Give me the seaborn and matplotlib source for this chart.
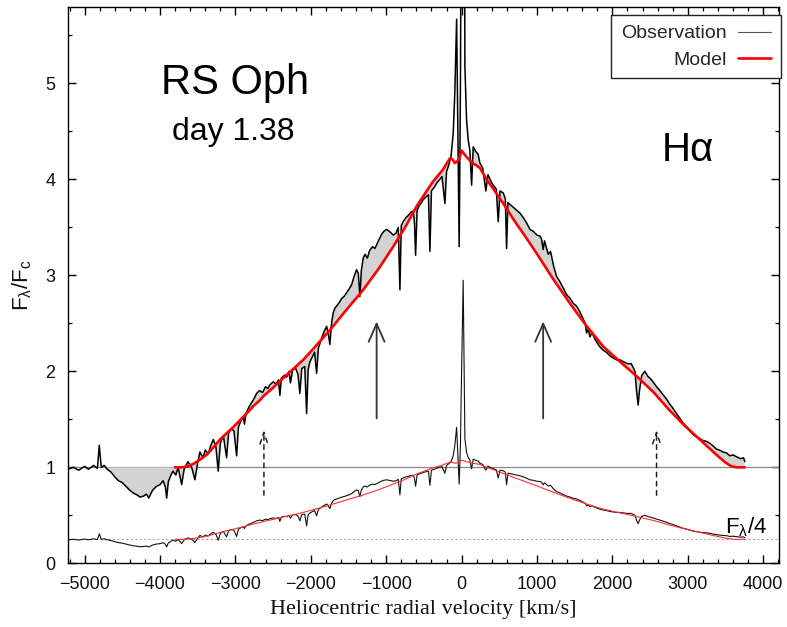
import numpy as np
import pandas as pd
import matplotlib
matplotlib.use("Agg")
import matplotlib.pyplot as plt
import seaborn as sns
from matplotlib.ticker import MultipleLocator

# ---------------- data ----------------
obs_v = [-5225, -5150, -5080, -5000, -4950, -4880, -4830, -4806, -4780, -4740,
         -4700, -4650, -4600, -4550, -4500, -4450, -4400, -4350, -4300, -4265,
         -4220, -4180, -4150, -4100, -4050, -4000, -3960, -3930, -3912, -3890,
         -3850, -3828, -3790, -3760, -3713, -3680, -3630, -3580, -3537, -3500,
         -3471, -3430, -3400, -3360, -3330, -3294, -3260, -3228, -3200, -3160,
         -3117, -3090, -3050, -3020, -2984, -2960, -2930, -2896, -2880, -2860,
         -2820, -2780, -2750, -2719, -2680, -2640, -2600, -2570, -2542, -2500,
         -2460, -2430, -2410, -2390, -2350, -2320, -2290, -2270, -2240, -2200,
         -2170, -2145, -2120, -2080, -2056, -2035, -2012, -1980, -1950, -1923,
         -1900, -1879, -1850, -1820, -1790, -1770, -1747, -1725, -1703, -1680,
         -1658, -1620, -1590, -1560, -1525, -1490, -1460, -1430, -1393, -1370,
         -1349, -1330, -1305, -1280, -1250, -1220, -1180, -1150, -1127, -1090,
         -1060, -1030, -995, -960, -930, -907, -870, -840, -818, -800,
         -775, -740, -700, -670, -642, -625, -610, -590, -560, -530,
         -509, -470, -440, -420, -400, -360, -332, -300, -260, -221,
         -200, -170, -140, -111, -90, -66, -50, -32, -15, 0,
         21, 44, 66, 88, 110, 133, 154, 180, 220, 243,
         280, 322, 350, 390, 420, 460, 486, 510, 552, 580,
         597, 615, 641, 700, 773, 820, 860, 906, 950, 1000,
         1039, 1060, 1082, 1100, 1149, 1180, 1220, 1260, 1300, 1340,
         1393, 1440, 1480, 1525, 1570, 1610, 1640, 1658, 1680, 1702,
         1730, 1780, 1830, 1878, 1920, 1970, 2010, 2056, 2100, 2150,
         2200, 2250, 2276, 2300, 2320, 2342, 2360, 2390, 2431, 2470,
         2510, 2550, 2586, 2630, 2680, 2719, 2760, 2800, 2850, 2896,
         2940, 2990, 3030, 3072, 3110, 3160, 3200, 3250, 3293, 3340,
         3380, 3420, 3470, 3514, 3560, 3600, 3647, 3700, 3740, 3757]
obs_f = [0.98, 1.00, 0.97, 1.01, 0.98, 1.02, 0.99, 1.23, 1.00, 1.02,
         0.98, 0.95, 0.90, 0.86, 0.84, 0.80, 0.76, 0.73, 0.71, 0.69,
         0.70, 0.72, 0.68, 0.76, 0.80, 0.82, 0.86, 0.80, 0.68, 0.85,
         0.93, 0.96, 0.92, 1.00, 0.82, 0.98, 1.06, 1.00, 0.87, 1.05,
         1.16, 1.10, 1.18, 1.14, 1.22, 1.29, 1.22, 0.96, 1.25, 1.33,
         1.10, 1.36, 1.40, 1.38, 1.12, 1.42, 1.48, 1.53, 1.45, 1.56,
         1.63, 1.68, 1.72, 1.77, 1.80, 1.78, 1.84, 1.82, 1.86, 1.89,
         1.87, 1.91, 1.75, 1.93, 1.96, 1.94, 2.00, 1.88, 2.02, 2.03,
         1.97, 1.77, 2.03, 2.05, 1.56, 2.02, 2.10, 2.15, 2.20, 1.98,
         2.24, 2.29, 2.36, 2.42, 2.47, 2.40, 2.28, 2.50, 2.61, 2.66,
         2.68, 2.72, 2.76, 2.78, 2.82, 2.86, 2.90, 2.98, 3.06, 3.02,
         2.78, 3.05, 3.18, 3.22, 3.18, 3.26, 3.30, 3.28, 3.32, 3.38,
         3.43, 3.46, 3.48, 3.46, 3.44, 3.42, 3.44, 3.50, 2.85, 3.52,
         3.56, 3.60, 3.63, 3.66, 3.67, 3.55, 3.21, 3.68, 3.73, 3.76,
         3.79, 3.82, 3.84, 3.25, 3.88, 3.92, 3.96, 3.99, 4.03, 3.75,
         4.08, 4.15, 4.24, 4.48, 4.90, 5.67, 4.60, 3.30, 5.00, 8.00,
         11.80, 5.18, 4.62, 4.41, 4.30, 3.94, 4.34, 4.30, 4.26, 4.17,
         4.12, 3.88, 4.05, 3.98, 3.94, 3.90, 3.56, 3.88, 3.86, 3.80,
         3.28, 3.76, 3.74, 3.70, 3.65, 3.60, 3.55, 3.48, 3.46, 3.42,
         3.41, 3.38, 3.27, 3.36, 3.22, 3.25, 3.10, 2.99, 2.94, 2.88,
         2.80, 2.76, 2.71, 2.68, 2.62, 2.55, 2.50, 2.40, 2.44, 2.36,
         2.40, 2.32, 2.26, 2.22, 2.20, 2.16, 2.14, 2.12, 2.12, 2.10,
         2.08, 2.08, 2.04, 2.00, 1.80, 1.65, 1.80, 1.96, 2.00, 1.95,
         1.92, 1.88, 1.84, 1.80, 1.75, 1.71, 1.66, 1.62, 1.56, 1.51,
         1.46, 1.42, 1.38, 1.34, 1.32, 1.30, 1.28, 1.27, 1.25, 1.22,
         1.19, 1.18, 1.16, 1.15, 1.12, 1.13, 1.11, 1.09, 1.10, 1.06]

model_v = [-3802, -3700, -3630, -3550, -3470, -3382, -3290, -3205, -3110, -3029,
           -2940, -2852, -2760, -2675, -2631, -2500, -2380, -2240, -2101, -1950,
           -1747, -1550, -1305, -1100, -907, -750, -597, -480, -377, -250,
           -155, -120, -89, -40, 0, 60, 133, 243, 332, 440,
           552, 700, 850, 995, 1200, 1436, 1650, 1878, 2074, 2321,
           2550, 2740, 2950, 3160, 3382, 3500, 3581, 3650, 3757]
model_f = [1.00, 1.00, 1.01, 1.04, 1.08, 1.13, 1.21, 1.29, 1.36, 1.42,
           1.49, 1.56, 1.64, 1.70, 1.74, 1.83, 1.92, 2.02, 2.12, 2.25,
           2.43, 2.62, 2.85, 3.07, 3.30, 3.50, 3.72, 3.86, 3.98, 4.10,
           4.22, 4.21, 4.17, 4.20, 4.30, 4.24, 4.18, 4.12, 4.00, 3.88,
           3.75, 3.57, 3.40, 3.23, 2.98, 2.71, 2.48, 2.26, 2.12, 1.95,
           1.78, 1.61, 1.44, 1.29, 1.13, 1.05, 1.01, 1.00, 1.00]

scale_div = 4            # lower spectrum is F_lambda / 4
continuum = 1.0
arrow_v = [-1127, 1082]
arrow_f = [1.51, 2.52]
dash_arrow_v = [-2622, 2586]
dash_arrow_f = [0.71, 1.39]

obs = pd.DataFrame({"v": obs_v, "f": obs_f})
mod = pd.DataFrame({"v": model_v, "f": model_f})
obs["f4"] = obs["f"] / scale_div
mod["f4"] = mod["f"] / scale_div

# ---------------- figure ----------------
sns.set_theme(style="ticks")
plt.rcParams["font.family"] = ["Liberation Sans", "DejaVu Sans"]
plt.rcParams["axes.edgecolor"] = "black"
plt.rcParams["axes.linewidth"] = 1.0

fig = plt.figure(figsize=(7.87, 6.27), dpi=100)
ax = fig.add_axes([0.086, 0.1016, 0.9038, 0.8877])

ax.axhline(continuum, color="#888888", lw=0.9, zorder=1)
ax.axhline(continuum / scale_div, color="#aaaaaa", lw=0.8, ls=(0, (2, 2)), zorder=1)

# shaded excess / deficit
x = np.asarray(obs["v"], float)
y = np.asarray(obs["f"], float)
base = np.where(x < model_v[0], continuum, np.interp(x, model_v, model_f))
mask = ((x >= -4720) & (x <= -130)) | ((x >= 140) & (x <= model_v[-1]))
ax.fill_between(x, y, base, where=mask, interpolate=True,
                color="#d3d3d3", lw=0, zorder=2)

sns.lineplot(data=obs, x="v", y="f", ax=ax, color="#000000", lw=1.1,
             estimator=None, sort=False, label="Observation", zorder=3)
sns.lineplot(data=mod, x="v", y="f", ax=ax, color="#ff0000", lw=1.9,
             estimator=None, sort=False, label="Model", zorder=4)
sns.lineplot(data=obs, x="v", y="f4", ax=ax, color="#111111", lw=0.8,
             estimator=None, sort=False, legend=False, zorder=3)
sns.lineplot(data=mod, x="v", y="f4", ax=ax, color="#ff3030", lw=0.8,
             estimator=None, sort=False, legend=False, zorder=4)

for av in arrow_v:
    ax.annotate("", xy=(av, arrow_f[1]), xytext=(av, arrow_f[0]),
                arrowprops=dict(arrowstyle="->,head_length=0.5,head_width=0.22",
                                lw=1.3, color="#333333", mutation_scale=26,
                                shrinkA=0, shrinkB=0), zorder=5)
for dv in dash_arrow_v:
    ax.annotate("", xy=(dv, dash_arrow_f[1]), xytext=(dv, dash_arrow_f[0]),
                arrowprops=dict(arrowstyle="->,head_length=0.6,head_width=0.2",
                                lw=1.1, color="#222222", ls=(0, (3, 3)),
                                mutation_scale=14, shrinkA=0, shrinkB=0), zorder=5)

ax.text(-3007, 5.01, "RS Oph", fontsize=30, ha="center", va="center", color="black")
ax.text(-3033, 4.49, "day 1.38", fontsize=23, ha="center", va="center", color="black")
ax.text(3003, 4.31, "H\u03b1", fontsize=29, ha="center", va="center", color="black")
ax.text(3500, 0.31, r"F$_\mathregular{\lambda}$/4", fontsize=16, ha="left",
        va="baseline", color="black")

ax.set_xlim(-5225, 4210)
ax.set_ylim(0, 5.8)
ax.xaxis.set_major_locator(MultipleLocator(1000))
ax.xaxis.set_minor_locator(MultipleLocator(200))
ax.yaxis.set_major_locator(MultipleLocator(1))
ax.yaxis.set_minor_locator(MultipleLocator(0.5))
ax.tick_params(which="both", direction="in", top=True, right=True, color="black")
ax.tick_params(which="major", length=6, width=1.0, labelsize=13, pad=9, labelcolor="#111111")
ax.tick_params(which="minor", length=3, width=0.9)

ax.set_xlabel("Heliocentric radial velocity [km/s]", family="Liberation Serif",
              fontsize=16, labelpad=5, color="#111111")
ax.set_ylabel(r"F$_\mathregular{\lambda}$/F$_\mathregular{c}$", fontsize=16,
              labelpad=8, color="#111111")

leg = ax.legend(loc="upper right", bbox_to_anchor=(1.003, 0.985), borderaxespad=0,
                markerfirst=False, fancybox=False, framealpha=1, edgecolor="#222222",
                fontsize=14, handlelength=1.7, handletextpad=0.6, borderpad=0.5,
                labelspacing=0.45)
leg.get_frame().set_linewidth(1.0)
leg.legend_handles[0].set_color("#555555")
leg.legend_handles[0].set_linewidth(0.8)
for t in leg.get_texts():
    t.set_ha("right")

fig.savefig("out.png", dpi=100)
